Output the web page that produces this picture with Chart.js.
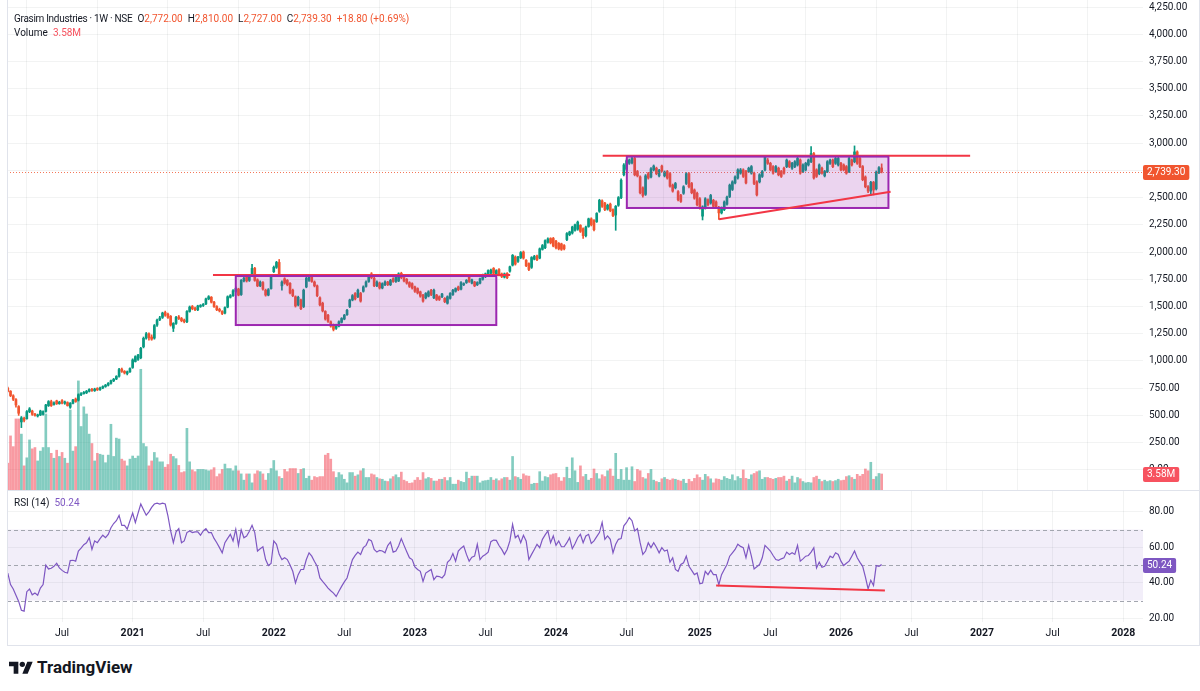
<!DOCTYPE html>
<html>
<head>
<meta charset="utf-8">
<script src="https://cdn.jsdelivr.net/npm/chart.js@4.4.1/dist/chart.umd.min.js"></script>
<style>
body{margin:0;background:#fff;font-family:Roboto,"Noto Sans",sans-serif;}
#wrap{position:relative;width:1200px;height:691px;overflow:hidden;background:#fff;}
canvas{position:absolute;left:0;}
#main{top:0;}
#rsi{top:490px;}
.frame{position:absolute;left:7px;top:0;width:1193px;height:646px;border-left:1px solid #e0e3eb;border-right:1px solid #e0e3eb;border-bottom:1px solid #e0e3eb;box-sizing:border-box;pointer-events:none;}
.sep{position:absolute;left:7px;top:490px;width:1193px;height:1px;background:#e0e3eb;}
.lg{position:absolute;left:14px;font-size:10px;line-height:12px;color:#131722;white-space:nowrap;}
.lg .t{letter-spacing:-0.3px;}
.lg .g{margin-left:5px;}
.r{color:#F1552F;}
.v{color:#F7525F;}
.p{color:#7E57C2;}
.logo{position:absolute;left:9px;top:657px;display:flex;align-items:center;gap:4px;font-weight:bold;font-size:17px;color:#131722;}
</style>
</head>
<body>
<div id="wrap">
<canvas id="main" width="1200" height="490"></canvas>
<canvas id="rsi" width="1200" height="155"></canvas>
<div class="sep"></div>
<div class="frame"></div>
<div class="lg" style="top:13px"><span class="t">Grasim Industries · 1W · NSE</span><span class="g">O</span><span class="r">2,772.00</span><span class="g">H</span><span class="r">2,810.00</span><span class="g">L</span><span class="r">2,727.00</span><span class="g">C</span><span class="r">2,739.30</span><span class="g r">+18.80 (+0.69%)</span></div>
<div class="lg" style="top:27px">Volume<span class="g v">3.58M</span></div>
<div class="lg" style="top:497px">RSI (14)<span class="g p">50.24</span></div>
<div class="logo"><svg width="24" height="16" viewBox="0 0 36 24"><path d="M14 22H7V11H0V4h14v18zM28 22h-8l7.5-18h8L28 22z" fill="#131722"/><circle cx="20" cy="8" r="4" fill="#131722"/></svg><span>TradingView</span></div>
</div>
<script>
// weekly bars, Grasim Industries (NSE), first bar = week of 17 Feb 2020
const opens = [
750,722,680,645,581,440,474,470,535,540, 512,495,504,510,537,590,627,600,633,608,
636,612,618,575,611,650,640,690,700,708, 722,740,728,748,738,752,765,778,795,818,
835,860,925,905,885,900,940,995,1015,1030, 1130,1210,1250,1220,1210,1330,1380,1400,1445,1430,
1410,1300,1345,1405,1390,1375,1360,1455,1500,1485, 1470,1500,1510,1525,1570,1585,1540,1500,1475,1455,
1440,1495,1585,1600,1640,1660,1610,1735,1775,1740, 1790,1850,1745,1690,1720,1650,1605,1665,1820,1860,
1905,1690,1755,1740,1713,1650,1590,1515,1560,1500, 1680,1740,1775,1725,1690,1580,1530,1455,1420,1360,
1330,1300,1320,1355,1385,1425,1500,1560,1620,1590, 1620,1640,1685,1730,1800,1760,1690,1715,1670,1700,
1725,1700,1755,1730,1735,1805,1765,1750,1720,1710, 1680,1665,1635,1605,1580,1595,1650,1580,1605,1590,
1590,1575,1530,1575,1610,1640,1680,1660,1700,1720, 1770,1715,1725,1700,1715,1750,1775,1790,1805,1850,
1800,1840,1800,1770,1805,1825,1880,1955,1915,1950, 2000,1925,1895,1860,1935,1965,1945,2025,2040,2090,
2125,2125,2100,2080,2075,2060,2115,2160,2175,2200, 2210,2245,2215,2150,2235,2305,2290,2280,2375,2470,
2450,2395,2440,2390,2340,2430,2500,2710,2760,2815, 2820,2860,2740,2690,2590,2530,2720,2690,2755,2770,
2700,2790,2700,2740,2720,2615,2590,2555,2520,2540, 2630,2720,2630,2570,2540,2490,2330,2405,2480,2450,
2475,2460,2410,2360,2390,2440,2510,2575,2635,2680, 2725,2755,2740,2740,2725,2725,2645,2645,2695,2755,
2845,2815,2785,2740,2770,2740,2770,2785,2830,2770, 2785,2800,2846,2740,2755,2800,2830,2905,2755,2720,
2770,2700,2740,2815,2845,2815,2800,2815,2800,2785, 2740,2846,2830,2920,2860,2785,2690,2600,2560,2640,
2580,2730,2772];
const highs = [
760,728,690,655,590,490,485,545,572,548, 520,512,548,542,602,636,640,625,640,630,
645,632,625,618,648,660,698,710,720,730, 745,748,750,755,760,772,785,802,825,840,
865,932,935,912,908,938,1020,1048,1062,1125, 1220,1262,1258,1240,1335,1385,1410,1448,1458,1440,
1418,1352,1410,1418,1400,1385,1462,1505,1510,1495, 1512,1518,1528,1578,1600,1592,1548,1508,1485,1462,
1498,1598,1610,1655,1680,1668,1748,1770,1785,1780, 1888,1860,1755,1735,1728,1660,1665,1795,1872,1915,
1932,1735,1765,1748,1720,1660,1598,1595,1568,1660, 1770,1782,1785,1735,1698,1590,1540,1462,1428,1368,
1340,1338,1368,1398,1428,1475,1568,1610,1628,1660, 1630,1690,1735,1780,1812,1768,1735,1725,1718,1735,
1732,1750,1765,1780,1810,1815,1775,1758,1728,1718, 1688,1672,1642,1612,1628,1645,1658,1660,1612,1598,
1622,1582,1598,1628,1658,1672,1688,1728,1718,1748, 1778,1752,1732,1728,1762,1798,1808,1838,1845,1858,
1838,1848,1808,1808,1812,1872,1978,1965,1962,2005, 2010,1932,1902,1958,1970,1972,2038,2070,2112,2130,
2132,2135,2108,2088,2082,2068,2178,2192,2238,2258, 2285,2252,2222,2238,2312,2315,2298,2362,2485,2480,
2458,2440,2450,2398,2428,2510,2672,2812,2855,2855, 2880,2870,2750,2700,2600,2712,2732,2775,2800,2780,
2760,2800,2745,2750,2730,2625,2640,2565,2530,2610, 2730,2730,2640,2580,2550,2500,2425,2500,2490,2530,
2485,2470,2420,2415,2470,2515,2625,2655,2700,2765, 2768,2765,2750,2780,2795,2735,2655,2720,2750,2885,
2860,2825,2795,2795,2780,2750,2780,2855,2840,2825, 2840,2870,2856,2810,2825,2855,2968,2915,2765,2810,
2780,2750,2840,2855,2855,2870,2870,2825,2810,2795, 2870,2856,2975,2930,2870,2795,2700,2610,2650,2650,
2745,2785,2810];
const lows = [
715,672,636,575,500,388,440,465,525,500, 492,485,498,502,530,582,582,595,600,602,
605,602,585,565,605,620,632,682,695,700, 715,720,720,728,730,745,758,770,788,810,
828,852,895,880,872,895,932,990,1005,1020, 1120,1200,1190,1190,1200,1318,1370,1390,1410,1390,
1320,1270,1335,1380,1360,1350,1352,1448,1470,1462, 1462,1492,1500,1518,1562,1532,1492,1462,1450,1425,
1432,1488,1578,1592,1630,1598,1602,1725,1725,1730, 1780,1732,1682,1682,1650,1595,1598,1660,1812,1850,
1780,1650,1705,1690,1615,1590,1495,1505,1470,1490, 1672,1730,1722,1680,1590,1505,1450,1375,1355,1310,
1276,1290,1312,1348,1378,1418,1490,1552,1560,1582, 1540,1632,1678,1722,1755,1682,1682,1660,1662,1692,
1692,1692,1722,1722,1728,1755,1725,1705,1675,1660, 1630,1615,1585,1540,1570,1588,1600,1572,1555,1555,
1582,1535,1522,1568,1602,1632,1645,1652,1692,1712, 1722,1708,1682,1692,1708,1742,1765,1782,1798,1795,
1792,1782,1765,1762,1755,1815,1872,1880,1905,1940, 1935,1865,1830,1850,1928,1920,1938,2018,2032,2082,
2075,2048,2030,2020,2015,2020,2105,2150,2165,2192, 2200,2180,2125,2140,2228,2240,2195,2272,2365,2410,
2380,2385,2370,2325,2200,2420,2490,2700,2750,2805, 2810,2700,2690,2535,2505,2520,2670,2680,2745,2710,
2690,2735,2690,2670,2595,2550,2580,2470,2455,2530, 2620,2590,2535,2485,2425,2395,2295,2395,2425,2440,
2410,2405,2300,2350,2380,2430,2500,2565,2625,2670, 2715,2685,2625,2730,2715,2620,2515,2635,2685,2745,
2805,2745,2715,2730,2700,2685,2715,2775,2775,2760, 2775,2790,2715,2730,2745,2790,2820,2670,2685,2710,
2715,2690,2730,2805,2775,2805,2790,2745,2745,2715, 2730,2790,2820,2805,2775,2655,2590,2545,2520,2525,
2570,2720,2727];
const closes = [
722,682,648,596,520,478,455,535,560,510, 500,503,540,535,596,627,590,615,608,622,
612,624,590,612,642,628,690,700,712,722, 738,728,742,735,752,765,778,795,818,832,
858,920,905,890,900,930,1010,1040,1055,1116, 1208,1250,1215,1200,1325,1375,1395,1440,1420,1400,
1330,1345,1400,1390,1370,1360,1455,1495,1480,1470, 1505,1510,1520,1570,1590,1540,1500,1470,1460,1435,
1490,1590,1600,1645,1665,1605,1740,1760,1735,1770, 1850,1740,1690,1725,1660,1605,1655,1785,1860,1905,
1790,1725,1715,1700,1625,1600,1505,1585,1480,1650, 1760,1770,1730,1690,1600,1515,1460,1385,1365,1320,
1290,1330,1360,1390,1420,1465,1560,1600,1570,1650, 1550,1680,1725,1770,1765,1690,1725,1670,1710,1725,
1700,1740,1730,1770,1800,1765,1735,1715,1685,1670, 1640,1625,1595,1550,1620,1635,1610,1650,1565,1565,
1615,1545,1590,1620,1650,1665,1655,1720,1710,1740, 1730,1745,1690,1720,1755,1790,1800,1830,1835,1805,
1830,1790,1775,1800,1765,1865,1970,1890,1955,1995, 1945,1875,1840,1950,1960,1930,2030,2060,2105,2120,
2085,2055,2040,2030,2025,2030,2170,2185,2230,2250, 2275,2190,2150,2230,2305,2250,2205,2355,2475,2420,
2390,2430,2380,2335,2420,2500,2660,2800,2840,2845, 2860,2710,2700,2545,2520,2700,2680,2765,2790,2720,
2750,2745,2735,2680,2605,2560,2630,2480,2465,2600, 2720,2600,2545,2495,2435,2405,2415,2490,2435,2520,
2420,2415,2360,2405,2460,2505,2615,2645,2690,2755, 2755,2695,2635,2770,2785,2630,2525,2710,2740,2875,
2815,2755,2725,2785,2710,2695,2725,2845,2785,2815, 2830,2860,2725,2800,2815,2845,2905,2680,2695,2800,
2725,2740,2830,2845,2785,2860,2860,2755,2755,2725, 2860,2800,2920,2815,2785,2665,2600,2560,2640,2570,
2735,2775,2739.3];
// volume in millions of shares
const volumes = [
6.0,12.1,9.7,15.9,15.9,12.5,5.4,7.2,11.2,9.2, 9.5,6.5,8.7,9.5,17.0,9.5,8.2,7.1,8.9,7.5,
8.4,7.1,6.0,17.9,8.7,9.7,24.4,14.2,18.6,17.0, 12.5,10.4,6.5,8.2,8.0,7.8,6.1,7.8,14.7,7.5,
11.6,11.4,6.9,6.5,5.4,6.9,7.6,7.1,7.6,27.0, 10.4,9.7,5.4,6.5,8.4,7.2,6.3,6.3,5.1,5.7,
8.0,7.5,7.0,5.5,3.9,4.1,13.8,6.3,4.5,4.1, 4.6,4.6,4.6,4.5,4.3,4.5,5.0,3.0,3.6,4.6,
5.8,4.8,4.8,4.3,5.4,4.3,3.6,2.2,3.6,3.6, 1.6,3.6,4.3,4.1,3.6,2.2,3.7,4.8,6.6,4.3,
3.0,2.6,4.6,4.1,4.8,4.8,4.8,3.7,4.6,4.8, 2.6,3.1,2.2,3.0,2.8,3.0,3.0,7.8,8.2,6.9,
4.1,2.8,3.9,3.4,2.4,1.6,3.9,3.9,3.1,3.4, 4.3,4.8,2.8,2.8,3.6,3.4,2.8,2.5,2.4,2.0,
1.9,2.5,3.0,3.4,2.8,4.0,2.2,1.9,1.5,1.6, 2.2,2.8,2.2,3.9,2.5,2.8,2.6,2.0,2.0,2.4,
2.4,2.8,2.1,2.8,1.3,1.3,2.2,1.9,1.7,4.0, 2.6,3.1,3.1,3.1,1.6,2.0,2.1,2.2,2.8,2.2,
2.5,2.1,2.5,2.8,2.8,2.2,7.5,3.0,2.8,2.4, 3.6,3.2,3.1,1.3,1.5,1.5,4.1,2.0,3.0,2.8,
3.4,3.6,3.7,2.8,2.0,2.8,5.1,2.6,7.2,4.3, 1.7,5.4,3.0,3.5,2.2,2.6,4.7,3.7,2.5,3.4,
3.0,4.3,4.7,3.1,8.2,2.4,4.6,2.2,5.0,2.2, 5.2,1.9,4.6,4.3,2.8,2.5,3.7,4.6,2.2,1.9,
1.7,2.5,2.8,2.4,2.2,2.5,2.4,2.2,2.0,2.4, 1.5,2.4,1.9,2.6,3.4,2.8,2.2,3.5,3.0,2.5,
1.6,2.5,2.4,2.2,3.0,2.6,2.4,3.4,2.1,3.0, 2.6,4.5,2.6,2.4,3.4,3.7,4.1,4.3,2.4,2.8,
2.8,2.6,2.4,2.6,2.8,2.8,3.1,2.0,2.4,3.1, 1.6,2.8,2.5,1.9,1.6,1.7,1.6,2.8,3.1,2.4,
1.9,2.2,1.9,2.1,1.9,2.1,2.4,2.1,2.2,3.0, 3.2,2.8,2.4,3.5,3.1,3.5,4.7,4.3,6.2,2.4,
3.0,3.7,3.58];
// RSI(14) as plotted
const rsi = [
45.5,39,36.5,33,29.5,24.5,24,35,36.5,33.2, 34.2,33,37,39,50,47.8,48.2,49.3,51,48.4,
47,45.9,45.5,52.5,52.7,52.2,57.9,59.5,61.5,62.5, 65.4,58.8,63.6,62.6,64.9,66.8,65.4,67.3,71,73.4,
75,78,72.4,72.4,70.2,74.9,79.3,74,79.3,84.4, 81.2,78.1,80,82.5,84.4,84.9,84.4,84.9,84.4,77.7,
69.2,62.6,68.7,70.5,62.6,63.6,68.3,69.2,68.3,68.7, 68.7,66.8,69.2,70.5,68.3,68.3,65,62.6,59.8,56.9,
62.6,65,67.3,63.6,70.2,61.1,69.8,65.4,66.4,69, 72.4,68.3,57.9,59.2,60.3,53.1,49.7,50.9,63.6,61.7,
56,53.1,54.1,53.1,50,46.5,39.9,44.6,47.5,47.5, 53.1,56.9,55,52,49.3,42.7,40.8,39,37,35.5,
34.2,32.3,35.2,38,40.5,42.7,48,53.1,55.4,57.3, 55.9,59.8,61.1,64.5,63.6,58.8,57.3,58.3,57.9,56.9,
61,63,57.3,57.9,60.7,64.9,61.1,57.5,54.1,53.1, 49,47.5,46.5,40.8,45.5,46.5,47.5,41.8,43.7,43.5,
42.7,44.6,51.6,53,56.5,52.2,57.9,59.5,60.7,56, 52.2,54.4,55,61.7,53.1,55,56,57.3,63.2,64.1,
63.9,61,58.8,56,58.8,63.6,73,65.4,66.8,62.6, 66.8,63.6,53.1,56,58.8,61.7,59.8,64.5,67,69.2,
62.6,66.4,61.1,63.6,60.3,60.3,62.6,65.4,59.2,62, 65.4,67.3,62.6,66.4,67.3,62.2,63.6,66,68.3,74,
64.5,66.4,64.5,56.9,61.7,64.5,64.9,72.1,74,76.8, 75,69.2,70.5,62.6,56,57.9,62.6,59.8,62.6,60,
56.9,59.8,57.9,58.5,51.6,54.1,47.5,46.5,50.3,51.3, 55,49.3,47,44.6,45.5,39.5,39.9,46.5,44.6,47.1,
44.6,44.6,38.9,44.6,47.5,50.3,55,56.9,58.8,61.7, 60.5,59.8,54.1,61.1,55,47.8,49,50.3,54.1,61.1,
59.5,57.9,55.4,53.1,52.7,53.5,54.1,57.3,56,56.9, 56,61.1,52.2,53.5,55,55.4,57.3,59.8,48.4,51.6,
48.7,49.3,52,55,54.1,56.9,56,52.2,49.7,51, 52.2,55,57.9,54.1,51.5,49.3,43.3,36.5,41.4,38.5,
49.7,49.3,50.24];

// time-axis labels (first weekly bar of the month)
const tickText = ['Jul','2021','Jul','2022','Jul','2023','Jul','2024','Jul','2025','Jul','2026','Jul','2027','Jul','2028'];
const tickMonth = ['2020-07','2021-01','2021-07','2022-01','2022-07','2023-01','2023-07','2024-01','2024-07','2025-01','2025-07','2026-01','2026-07','2027-01','2027-07','2028-01'];
const priceTicks = [0,250,500,750,1000,1250,1500,1750,2000,2250,2500,2750,3000,3250,3500,3750,4000,4250];
const rsiTicks = [20,40,60,80];

// drawings on the chart (week index / price)
const boxes = [{x0:84.0,x1:180.0,y0:1330,y1:1780},{x0:228.1,x1:324.5,y0:2405,y1:2877}];
const hLines = [{x0:75.6,x1:185.1,y:1790},{x0:219.2,x1:354.6,y:2885}];
const trendLine = {x0:262.1,y0:2302,x1:325.3,y1:2555};
const rsiLine = {x0:261.0,y0:38.5,x1:323.2,y1:35.7};

const X_MIN = -0.3, X_MAX = 418.3;
const UP = '#089981', DN = '#F1552F', LINE_RED = '#F23645';
const FONT = 'Roboto, "Noto Sans", sans-serif';
const GRID = 'rgba(42,46,57,0.06)';
Chart.defaults.font.family = FONT;
Chart.defaults.font.size = 10;
Chart.defaults.color = '#131722';

const start = Date.UTC(2020,1,17);
const tickWeeks = tickMonth.map(s => {
  const [y, m] = s.split('-').map(Number);
  let d = Date.UTC(y, m-1, 1);
  const dow = new Date(d).getUTCDay();
  d += ((8 - dow) % 7) * 86400000;
  return (d - start) / (7*86400000);
});
const isUp = i => closes[i] >= opens[i];
const candleColor = c => isUp(c.dataIndex) ? UP : DN;
const volColor = c => isUp(c.dataIndex) ? 'rgba(8,153,129,0.5)' : 'rgba(242,54,69,0.5)';
const noPad = s => { s.paddingTop = 0; s.paddingBottom = 0; s.paddingLeft = 0; s.paddingRight = 0; };

function tag(ctx, x, yc, text, bg) {
  ctx.font = '10px ' + FONT;
  const w = ctx.measureText(text).width + 8;
  ctx.fillStyle = bg;
  ctx.beginPath();
  ctx.roundRect(x, Math.round(yc) - 7, w, 15, 2);
  ctx.fill();
  ctx.fillStyle = '#fff';
  ctx.textBaseline = 'middle';
  ctx.textAlign = 'left';
  ctx.fillText(text, x + 4, Math.round(yc) + 0.5);
}

const drawings = {
  id: 'drawings',
  afterDatasetsDraw(chart) {
    const {ctx, chartArea: a, scales: {x, y}} = chart;
    ctx.save();
    ctx.beginPath(); ctx.rect(a.left, a.top, a.width, a.height); ctx.clip();
    const py = Math.round(y.getPixelForValue(closes[closes.length-1])) + 0.5;
    ctx.setLineDash([1, 2]);
    ctx.strokeStyle = 'rgba(241,85,47,0.8)';
    ctx.lineWidth = 1;
    ctx.beginPath(); ctx.moveTo(a.left, py); ctx.lineTo(a.right, py); ctx.stroke();
    ctx.setLineDash([]);
    boxes.forEach(b => {
      const l = x.getPixelForValue(b.x0), r = x.getPixelForValue(b.x1);
      const t = y.getPixelForValue(b.y1), btm = y.getPixelForValue(b.y0);
      ctx.fillStyle = 'rgba(156,39,176,0.2)';
      ctx.fillRect(l, t, r - l, btm - t);
    });
    ctx.strokeStyle = LINE_RED; ctx.lineWidth = 2;
    hLines.forEach(h => {
      const yy = y.getPixelForValue(h.y);
      ctx.beginPath(); ctx.moveTo(x.getPixelForValue(h.x0), yy); ctx.lineTo(x.getPixelForValue(h.x1), yy); ctx.stroke();
    });
    ctx.strokeStyle = '#9C27B0'; ctx.lineWidth = 2;
    boxes.forEach(b => {
      const l = x.getPixelForValue(b.x0), r = x.getPixelForValue(b.x1);
      const t = y.getPixelForValue(b.y1), btm = y.getPixelForValue(b.y0);
      ctx.strokeRect(l, t, r - l, btm - t);
    });
    ctx.strokeStyle = LINE_RED; ctx.lineWidth = 2;
    ctx.beginPath();
    ctx.moveTo(x.getPixelForValue(trendLine.x0), y.getPixelForValue(trendLine.y0));
    ctx.lineTo(x.getPixelForValue(trendLine.x1), y.getPixelForValue(trendLine.y1));
    ctx.stroke();
    ctx.restore();
  },
  afterDraw(chart) {
    const {ctx, chartArea: a, scales: {y, yv}} = chart;
    tag(ctx, a.right, y.getPixelForValue(closes[closes.length-1]), '2,739.30', DN);
    tag(ctx, a.right, yv.getPixelForValue(volumes[volumes.length-1]), '3.58M', '#F7525F');
  }
};

const rsiDecor = {
  id: 'rsiDecor',
  beforeDatasetsDraw(chart) {
    const {ctx, chartArea: a, scales: {y}} = chart;
    const t = y.getPixelForValue(70), b = y.getPixelForValue(30);
    ctx.save();
    ctx.fillStyle = 'rgba(126,87,194,0.1)';
    ctx.fillRect(a.left, t, a.width, b - t);
    ctx.strokeStyle = '#a3a6af';
    ctx.lineWidth = 1;
    ctx.setLineDash([4, 3]);
    [70, 50, 30].forEach(v => {
      const yy = Math.round(y.getPixelForValue(v)) + 0.5;
      ctx.beginPath(); ctx.moveTo(a.left, yy); ctx.lineTo(a.right, yy); ctx.stroke();
    });
    ctx.restore();
  },
  afterDatasetsDraw(chart) {
    const {ctx, scales: {x, y}} = chart;
    ctx.save();
    ctx.strokeStyle = LINE_RED; ctx.lineWidth = 2;
    ctx.beginPath();
    ctx.moveTo(x.getPixelForValue(rsiLine.x0), y.getPixelForValue(rsiLine.y0));
    ctx.lineTo(x.getPixelForValue(rsiLine.x1), y.getPixelForValue(rsiLine.y1));
    ctx.stroke();
    ctx.restore();
  },
  afterDraw(chart) {
    const {ctx, chartArea: a, scales: {y}} = chart;
    tag(ctx, a.right, y.getPixelForValue(rsi[rsi.length-1]), '50.24', '#7E57C2');
  }
};

const xTicks = s => { s.ticks = tickWeeks.map(v => ({value: v})); };
const fmtPrice = v => v.toLocaleString('en-US', {minimumFractionDigits: 2, maximumFractionDigits: 2});

new Chart(document.getElementById('main'), {
  type: 'bar',
  data: {
    datasets: [
      {data: volumes.map((v, i) => ({x: i, y: v})), yAxisID: 'yv', backgroundColor: volColor,
       barThickness: 2, grouped: false, order: 3},
      {data: highs.map((h, i) => ({x: i, y: [lows[i], h]})), yAxisID: 'y', backgroundColor: candleColor,
       barThickness: 1, grouped: false, order: 2},
      {data: opens.map((o, i) => ({x: i, y: [o, closes[i]]})), yAxisID: 'y', backgroundColor: candleColor,
       barThickness: 2, minBarLength: 1, grouped: false, order: 1}
    ]
  },
  options: {
    responsive: false, animation: false, events: [],
    layout: {padding: {left: 7, right: 0, top: 0, bottom: 0}},
    plugins: {legend: {display: false}, tooltip: {enabled: false}},
    scales: {
      x: {type: 'linear', min: X_MIN, max: X_MAX, offset: false,
          afterBuildTicks: xTicks,
          ticks: {display: false},
          grid: {color: GRID, drawTicks: false}, border: {display: false},
          afterFit: s => { s.height = 0; noPad(s); }},
      y: {position: 'right', min: -185, max: 4315,
          afterBuildTicks: s => { s.ticks = priceTicks.map(v => ({value: v})); },
          ticks: {callback: fmtPrice, padding: 6, color: '#131722'},
          grid: {color: GRID, drawTicks: false}, border: {display: false},
          afterFit: s => { s.width = 57; noPad(s); }},
      yv: {display: false, min: 0, max: 109.6}
    }
  },
  plugins: [drawings]
});

new Chart(document.getElementById('rsi'), {
  type: 'line',
  data: {
    datasets: [{data: rsi.map((v, i) => ({x: i, y: v})), borderColor: '#7E57C2', borderWidth: 1.2,
                pointRadius: 0, tension: 0}]
  },
  options: {
    responsive: false, animation: false, events: [],
    layout: {padding: {left: 7, right: 0, top: 0, bottom: 0}},
    plugins: {legend: {display: false}, tooltip: {enabled: false}},
    scales: {
      x: {type: 'linear', min: X_MIN, max: X_MAX,
          afterBuildTicks: xTicks,
          ticks: {callback: (v, i) => tickText[i], autoSkip: false, maxRotation: 0, padding: 5,
                  color: '#131722',
                  font: c => ({family: FONT, size: 10.5, weight: /^\d/.test(tickText[c.index] || '') ? 'bold' : 'normal'})},
          grid: {color: GRID, drawTicks: false}, border: {display: false},
          afterFit: s => { s.height = 23; noPad(s); }},
      y: {position: 'right', min: 17.9, max: 92.3,
          afterBuildTicks: s => { s.ticks = rsiTicks.map(v => ({value: v})); },
          ticks: {callback: v => v.toFixed(2), padding: 6, color: '#131722'},
          grid: {color: GRID, drawTicks: false}, border: {display: false},
          afterFit: s => { s.width = 57; noPad(s); }}
    }
  },
  plugins: [rsiDecor]
});
</script>
</body>
</html>
